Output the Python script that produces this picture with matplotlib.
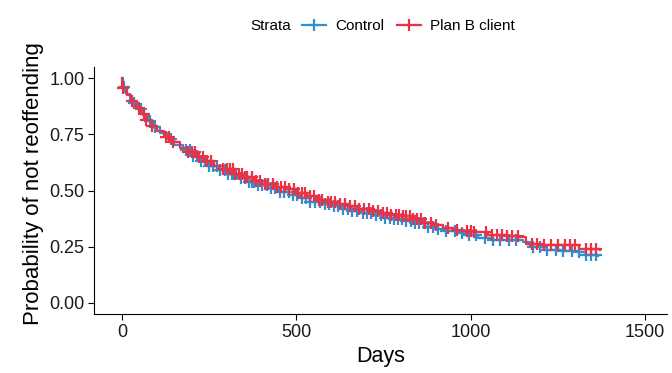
import numpy as np
import matplotlib.pyplot as plt

plt.rcParams['font.family'] = ['Liberation Sans', 'DejaVu Sans']

# Kaplan-Meier step knots (days, survival)
ctrl_t = [0, 2, 12, 22, 32, 45, 60, 75, 90, 110, 130, 150, 175, 200, 225, 250, 275, 300, 330, 360, 390,
          420, 450, 480, 510, 540, 570, 600, 630, 660, 690, 720, 750, 780, 810, 840, 870, 900, 930,
          960, 990, 1020, 1060, 1100, 1150, 1170, 1210, 1260, 1310, 1330, 1365]
ctrl_s = [1.0, 0.96, 0.93, 0.905, 0.89, 0.865, 0.835, 0.81, 0.785, 0.755, 0.73, 0.705, 0.68, 0.655, 0.63,
          0.61, 0.59, 0.575, 0.555, 0.54, 0.525, 0.51, 0.495, 0.48, 0.465, 0.45, 0.44, 0.43, 0.42,
          0.41, 0.40, 0.39, 0.38, 0.375, 0.365, 0.355, 0.34, 0.33, 0.32, 0.31, 0.30, 0.29, 0.28,
          0.28, 0.27, 0.25, 0.235, 0.23, 0.225, 0.215, 0.21]

planb_t = [0, 1, 15, 25, 40, 55, 70, 85, 100, 120, 140, 165, 190, 215, 240, 265, 290, 320, 350, 380,
           410, 440, 470, 500, 530, 560, 590, 620, 650, 680, 710, 740, 770, 800, 830, 860, 890, 920,
           950, 980, 1010, 1050, 1100, 1140, 1160, 1200, 1250, 1310, 1370]
planb_s = [1.0, 0.955, 0.925, 0.90, 0.87, 0.84, 0.815, 0.79, 0.765, 0.74, 0.715, 0.69, 0.67, 0.65, 0.63,
           0.61, 0.595, 0.575, 0.56, 0.545, 0.53, 0.515, 0.505, 0.49, 0.475, 0.46, 0.45, 0.44, 0.43,
           0.42, 0.41, 0.40, 0.39, 0.385, 0.375, 0.355, 0.345, 0.335, 0.325, 0.32, 0.315, 0.30,
           0.298, 0.295, 0.26, 0.258, 0.258, 0.24, 0.236]

# censoring times
ctrl_cens = [5, 35, 55, 80, 95, 140, 185, 195, 205, 215, 228, 238, 250, 262, 272, 280, 295, 305, 315,
             322, 328, 340, 352, 365, 372, 378, 390, 402, 415, 428, 440, 452, 465, 478, 490, 502, 515,
             528, 540, 555, 568, 582, 595, 608, 620, 635, 648, 660, 675, 690, 702, 715, 728, 742,
             755, 768, 780, 792, 804, 816, 828, 840, 852, 865, 878, 892, 905, 930, 955, 975, 995,
             1015, 1040, 1065, 1085, 1110, 1130, 1180, 1200, 1220, 1245, 1265, 1290, 1310, 1330,
             1345, 1360]
planb_cens = [3, 30, 48, 62, 70, 85, 125, 135, 145, 190, 200, 210, 222, 232, 245, 255, 290, 300, 310,
              318, 325, 335, 345, 352, 360, 372, 385, 395, 410, 420, 432, 445, 455, 468, 480, 492,
              505, 515, 525, 540, 552, 565, 575, 590, 600, 612, 625, 640, 655, 668, 680, 695, 708,
              720, 735, 748, 760, 772, 785, 795, 805, 815, 825, 835, 845, 858, 870, 885, 900, 935,
              960, 990, 1000, 1010, 1045, 1060, 1075, 1090, 1105, 1120, 1135, 1175, 1190, 1210,
              1230, 1250, 1270, 1285, 1300, 1330, 1345, 1360]

groups = ['Control', 'Plan B client']
colors = ['#2E8FD3', '#EC3145']

fig = plt.figure(figsize=(6.72, 3.73), dpi=100)
ax = fig.add_axes([0.140, 0.158, 0.853, 0.662])

for name, t, s, cens, c in [(groups[0], ctrl_t, ctrl_s, ctrl_cens, colors[0]),
                            (groups[1], planb_t, planb_s, planb_cens, colors[1])]:
    t = np.array(t)
    s = np.array(s)
    ax.step(t, s, where='post', color=c, lw=1.6, label=name)
    idx = np.searchsorted(t, cens, side='right') - 1
    ax.plot(cens, s[idx], ls='none', marker='+', ms=8, mew=1.6, color=c)

ax.set_xlim(-80, 1564)
ax.set_ylim(-0.05, 1.05)
ax.set_xticks([0, 500, 1000, 1500])
ax.set_yticks([0, 0.25, 0.5, 0.75, 1.0])
ax.set_yticklabels(['0.00', '0.25', '0.50', '0.75', '1.00'])
for sp in ['top', 'right']:
    ax.spines[sp].set_visible(False)
ax.tick_params(labelsize=13, length=4, color='black', labelcolor='#1a1a1a', pad=3)
ax.set_xlabel('Days', fontsize=15.5, labelpad=4)
ax.set_ylabel('Probability of not reoffending', fontsize=16, labelpad=3)
ax.yaxis.set_label_coords(-0.088, 0.53)

fig.text(0.372, 0.930, 'Strata', fontsize=11, va='center')
handles = [plt.Line2D([], [], color=c, lw=1.6, marker='+', ms=9, mew=1.6) for c in colors]
fig.legend(handles, groups, loc='center', bbox_to_anchor=(0.608, 0.930), ncol=2, frameon=False,
           fontsize=11, handlelength=1.6, handletextpad=0.6, columnspacing=0.8)

fig.savefig('out.png', dpi=100)
